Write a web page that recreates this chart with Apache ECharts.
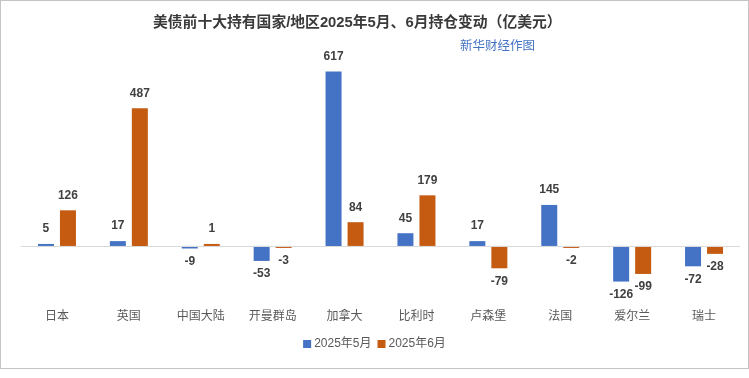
<!DOCTYPE html>
<html>
<head>
<meta charset="utf-8">
<script src="https://cdn.jsdelivr.net/npm/echarts@6/dist/echarts.min.js"></script>
<style>
  html, body { margin: 0; padding: 0; background: #fff; }
  #wrap { position: relative; width: 749px; height: 378px; }
  #chart { width: 749px; height: 378px; }
  #frame {
    position: absolute; left: 0; top: 0; width: 749px; height: 369px;
    box-sizing: border-box; border: 1px solid #c4c4c4; pointer-events: none;
  }
</style>
</head>
<body>
<div id="wrap">
  <div id="chart"></div>
  <div id="frame"></div>
</div>
<script>
// 国家/地区
const categories = ["日本", "英国", "中国大陆", "开曼群岛", "加拿大", "比利时", "卢森堡", "法国", "爱尔兰", "瑞士"];
// 2025年5月持仓变动（亿美元）
const may = [5, 17, -9, -53, 617, 45, 17, 145, -126, -72];
// 2025年6月持仓变动（亿美元）
const june = [126, 487, 1, -3, 84, 179, -79, -2, -99, -28];
const seriesNames = ["2025年5月", "2025年6月"];
const colors = ["#4472C4", "#C55A11"];

const font = "'Liberation Sans', Arial, 'Noto Sans CJK SC', sans-serif";

function toData(arr) {
  return arr.map(function (v) {
    return {
      value: v,
      label: {
        position: v < 0 ? "bottom" : "top",
        distance: v < 0 ? 7 : 9,
      },
    };
  });
}

function makeSeries(name, arr, color, withLine) {
  const s = {
    name: name,
    type: "bar",
    data: toData(arr),
    barWidth: 16,
    barGap: "37.5%",
    barMinHeight: 2,
    itemStyle: { color: color },
    label: {
      show: true,
      color: "#404040",
      fontSize: 12,
      fontWeight: "bold",
      fontFamily: font,
    },
  };
  if (withLine) {
    s.markLine = {
      silent: true,
      symbol: "none",
      label: { show: false },
      lineStyle: { color: "#d9d9d9", type: "solid", width: 1 },
      data: [{ yAxis: 0 }],
    };
  }
  return s;
}

const myChart = echarts.init(document.getElementById("chart"), null, { renderer: "canvas" });
const option = {
  backgroundColor: "#fff",
  animation: false,
  title: [
    {
      text: "美债前十大持有国家/地区2025年5月、6月持仓变动（亿美元）",
      left: 148,
      top: 11,
      textStyle: { fontSize: 14.8, fontWeight: "bold", color: "#3a3a3a", fontFamily: font },
    },
    {
      text: "新华财经作图",
      left: 455,
      top: 35,
      textStyle: { fontSize: 12.5, fontWeight: "normal", color: "#4472C4", fontFamily: font },
    },
  ],
  legend: {
    bottom: 23,
    left: "center",
    itemWidth: 8,
    itemHeight: 8,
    itemGap: 6,
    icon: "rect",
    textStyle: { fontSize: 12, color: "#595959", fontFamily: font, padding: [0, 0, 0, -2] },
    data: seriesNames,
  },
  grid: { left: 21, right: 9, top: 48, height: 254.5 },
  xAxis: {
    type: "category",
    data: categories,
    axisLine: { show: false, onZero: false },
    axisTick: { show: false },
    axisLabel: { margin: 8, fontSize: 12, color: "#595959", fontFamily: font },
  },
  yAxis: {
    type: "value",
    min: -200,
    max: 700,
    interval: 100,
    show: false,
    splitLine: { show: false },
  },
  series: [
    makeSeries(seriesNames[0], may, colors[0], true),
    makeSeries(seriesNames[1], june, colors[1], false),
  ],
};
myChart.setOption(option);
</script>
</body>
</html>
